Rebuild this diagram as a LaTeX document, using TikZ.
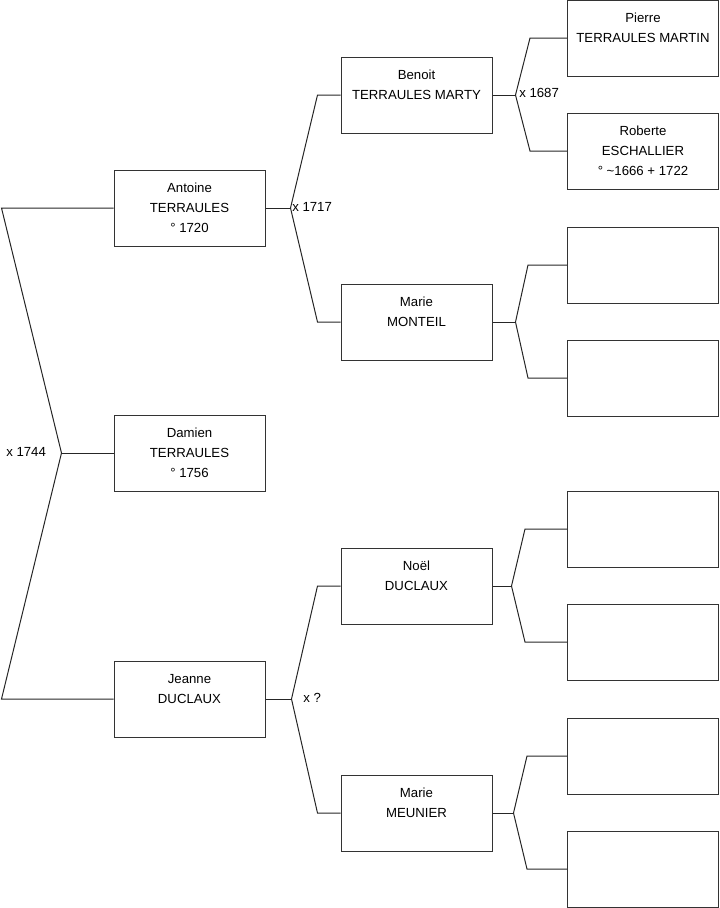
\documentclass[tikz,border=0pt]{standalone}
\usepackage{fontspec}
\setmainfont{Liberation Sans}
\usetikzlibrary{calc}

\tikzset{
  person/.style={draw=black!80, line width=0.75pt, fill=white,
    minimum width=113.25pt, minimum height=57pt, inner sep=0pt,
    align=center, font=\fontsize{9.9pt}{15pt}\selectfont},
  link/.style={draw=black!85, line width=0.75pt},
  wed/.style={anchor=west, inner sep=0pt, font=\fontsize{9.9pt}{15pt}\selectfont}
}

\begin{document}
\begin{tikzpicture}[x=0.75pt, y=-0.75pt]
  \useasboundingbox (0,0) rectangle (719,908);

  % Columns (pixel units, y downward):
  %  generation 1 : 114 - 265
  %  generation 2 : 341 - 492
  %  generation 3 : 567 - 719

  % Generation 1
  \node[person] (antoine) at (189.5, 208) {Antoine\\TERRAULES\\° 1720};
  \node[person] (damien)  at (189.5, 453) {Damien\\TERRAULES\\° 1756};
  \node[person] (jeanne)  at (189.5, 699) {Jeanne\\DUCLAUX\\~};

  % Generation 2
  \node[person] (benoit)  at (416.5,  95) {Benoit\\TERRAULES MARTY\\~};
  \node[person] (monteil) at (416.5, 322) {Marie\\MONTEIL\\~};
  \node[person] (duclaux) at (416.5, 586) {Noël\\DUCLAUX\\~};
  \node[person] (meunier) at (416.5, 813) {Marie\\MEUNIER\\~};

  % Generation 3
  \node[person] (pierre)  at (643,  38) {Pierre\\TERRAULES MARTIN\\~};
  \node[person] (roberte) at (643, 151) {Roberte\\ESCHALLIER\\° \textasciitilde1666 + 1722};
  \node[person] (mon1)    at (643, 265) {};
  \node[person] (mon2)    at (643, 378) {};
  \node[person] (duc1)    at (643, 529) {};
  \node[person] (duc2)    at (643, 642) {};
  \node[person] (meu1)    at (643, 756) {};
  \node[person] (meu2)    at (643, 869) {};

  % Fork points
  \coordinate (f0) at ($(damien.west)+(-52,0)$);
  \coordinate (f1) at ($(antoine.east)+(25,0)$);
  \coordinate (f2) at ($(jeanne.east)+(26,0)$);
  \coordinate (f3) at ($(benoit.east)+(23,0)$);
  \coordinate (f4) at ($(monteil.east)+(23,0)$);
  \coordinate (f5) at ($(duclaux.east)+(19,0)$);
  \coordinate (f6) at ($(meunier.east)+(21,0)$);

  % Links
  \draw[link] (antoine.west) -- ++(-112,0) -- (f0) -- ($(jeanne.west)+(-112,0)$) -- (jeanne.west);
  \draw[link] (f0) -- (damien.west);

  \draw[link] (antoine.east) -- (f1);
  \draw[link] (benoit.west) -- ++(-23,0) -- (f1) -- ($(monteil.west)+(-23,0)$) -- (monteil.west);
  \draw[link] (jeanne.east) -- (f2);
  \draw[link] (duclaux.west) -- ++(-23,0) -- (f2) -- ($(meunier.west)+(-23,0)$) -- (meunier.west);

  \draw[link] (benoit.east) -- (f3);
  \draw[link] (pierre.west) -- ++(-37,0) -- (f3) -- ($(roberte.west)+(-37,0)$) -- (roberte.west);
  \draw[link] (monteil.east) -- (f4);
  \draw[link] (mon1.west) -- ++(-39,0) -- (f4) -- ($(mon2.west)+(-39,0)$) -- (mon2.west);
  \draw[link] (duclaux.east) -- (f5);
  \draw[link] (duc1.west) -- ++(-42,0) -- (f5) -- ($(duc2.west)+(-42,0)$) -- (duc2.west);
  \draw[link] (meunier.east) -- (f6);
  \draw[link] (meu1.west) -- ++(-40,0) -- (f6) -- ($(meu2.west)+(-40,0)$) -- (meu2.west);

  % Marriage labels
  \node[wed] (w0) at (  6, 452) {x 1744};
  \node[wed] (w1) at (292, 207) {x 1717};
  \node[wed] (w2) at (303, 698) {x ?};
  \node[wed] (w3) at (519,  93) {x 1687};

\end{tikzpicture}
\end{document}
